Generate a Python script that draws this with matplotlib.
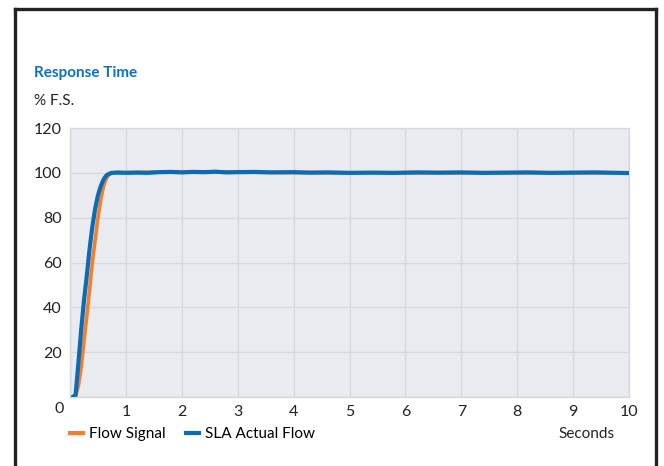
import matplotlib
matplotlib.use('Agg')
import matplotlib.pyplot as plt
from matplotlib.lines import Line2D

plt.rcParams['font.family'] = ['Lato', 'DejaVu Sans']

# --- data ---
t_flow = [0.05, 0.10, 0.15, 0.20, 0.25, 0.30, 0.35, 0.40, 0.45, 0.50, 0.55, 0.60, 0.65,
          0.70, 0.75, 0.85, 1.0, 1.3, 1.6, 1.8, 2.0, 2.2, 2.4, 2.6, 2.8, 3.0, 3.5, 4.0,
          5.0, 6.0, 7.0, 8.0, 9.0, 10.0]
flow_signal = [0, 0, 5, 13, 25, 36, 48, 60, 70, 80, 88, 94, 97.5,
               99.3, 100, 100.2, 100.1, 100.2, 100.4, 100.5, 100.3, 100.5, 100.4, 100.5, 100.3, 100.3, 100.2, 100.1,
               100, 100, 100, 100, 100, 100]

t_sla = [0.05, 0.10, 0.15, 0.20, 0.25, 0.30, 0.35, 0.40, 0.45, 0.50, 0.55, 0.60, 0.65,
         0.70, 0.75, 0.85, 1.0, 1.2, 1.4, 1.6, 1.8, 2.0, 2.2, 2.4, 2.6, 2.8, 3.0, 3.3, 3.6,
         4.0, 4.3, 4.6, 5.0, 5.4, 5.8, 6.2, 6.6, 7.0, 7.4, 7.8, 8.2, 8.6, 9.0, 9.4, 9.8, 10.0]
sla_actual = [0, 1, 15, 30, 43, 54, 66, 76, 84, 90, 94, 97, 98.8,
              99.6, 100, 100.1, 100.0, 100.1, 100.0, 100.3, 100.4, 100.2, 100.4, 100.3, 100.5, 100.2, 100.3, 100.4, 100.2,
              100.3, 100.1, 100.2, 100.0, 100.1, 100.0, 100.2, 100.1, 100.2, 100.0, 100.1, 100.2, 100.0, 100.1, 100.2, 100.0, 99.9]

x_ticks = [1, 2, 3, 4, 5, 6, 7, 8, 9, 10]
y_ticks = [20, 40, 60, 80, 100, 120]

ORANGE = '#f47f2b'
BLUE = '#0b6cb5'
GRID = '#d5d9de'
BG = '#e9ebee'
INK = '#222222'

fig = plt.figure(figsize=(6.64, 4.66), dpi=100)
ax = fig.add_axes([70 / 664, 1 - 397 / 466, 559 / 664, 269 / 466])
ax.set_facecolor(BG)

ax.plot(t_flow, flow_signal, color=ORANGE, lw=2.6, solid_capstyle='round', zorder=3)
ax.plot(t_sla, sla_actual, color=BLUE, lw=3.0, solid_capstyle='round', zorder=4)

ax.set_xlim(0, 10)
ax.set_ylim(0, 120)
ax.set_xticks([0] + x_ticks)
ax.set_xticklabels([''] + [str(v) for v in x_ticks])
ax.set_yticks([0] + y_ticks)
ax.set_yticklabels([''] + [str(v) for v in y_ticks])
ax.tick_params(length=0, labelsize=11.5, colors=INK)
ax.tick_params(axis='x', pad=6)
ax.tick_params(axis='y', pad=6)
ax.grid(True, color=GRID, lw=1)
ax.set_axisbelow(True)
for s in ax.spines.values():
    s.set_color(GRID)
    s.set_linewidth(1)

# origin label sits below-left of the corner
fig.text(59 / 664, 1 - 409 / 466, '0', fontsize=11.5, color=INK, ha='center', va='center')

fig.text(34 / 664, 1 - 73 / 466, 'Response Time', fontsize=11, fontweight='bold',
         color='#0f6fbd', ha='left', va='center')
fig.text(34 / 664, 1 - 101 / 466, '% F.S.', fontsize=11, color=INK, ha='left', va='center')
fig.text(587 / 664, 1 - 434 / 466, 'Seconds', fontsize=11, color=INK, ha='center', va='center')

handles = [Line2D([], [], color=ORANGE, lw=3), Line2D([], [], color=BLUE, lw=3)]
fig.legend(handles, ['Flow Signal', 'SLA Actual Flow'], loc='center left',
           bbox_to_anchor=(70 / 664, 1 - 434 / 466), ncol=2, frameon=False,
           fontsize=11, handlelength=0.85, handletextpad=0.4, columnspacing=1.3,
           borderpad=0, borderaxespad=0)

# outer frame (open at the bottom)
fig.add_artist(Line2D([15 / 664, 15 / 664], [0, 1 - 9 / 466], color=INK, lw=2.4,
                      transform=fig.transFigure))
fig.add_artist(Line2D([15 / 664, 656 / 664], [1 - 9 / 466, 1 - 9 / 466], color=INK, lw=2.4,
                      transform=fig.transFigure))
fig.add_artist(Line2D([656 / 664, 656 / 664], [0, 1 - 9 / 466], color=INK, lw=2.4,
                      transform=fig.transFigure))

fig.savefig('out.png', dpi=100)
